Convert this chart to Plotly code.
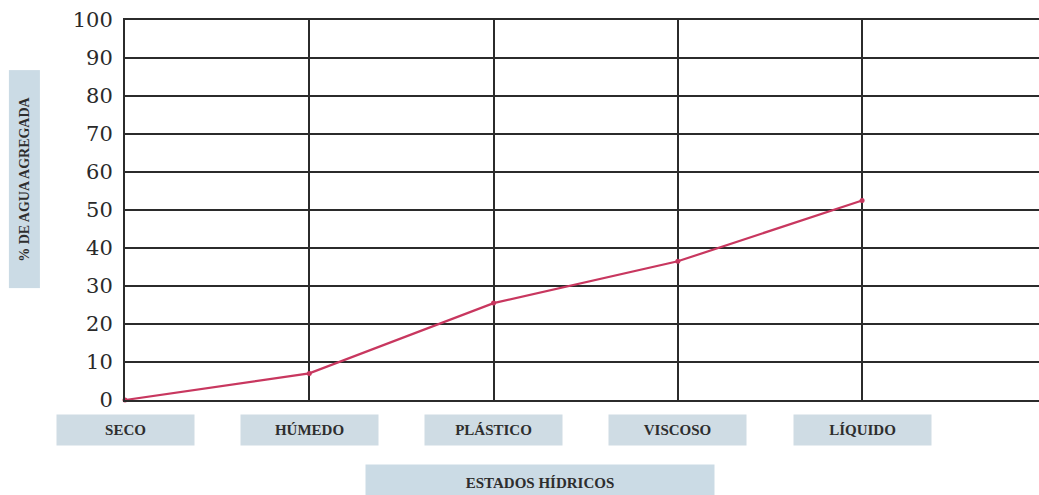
import plotly.graph_objects as go

categories = ["SECO", "HÚMEDO", "PLÁSTICO", "VISCOSO", "LÍQUIDO"]
agua_pct = [0, 7, 25.5, 36.5, 52.5]
y_ticks = list(range(0, 101, 10))
x_title = "ESTADOS HÍDRICOS"
y_title = "% DE AGUA AGREGADA"

xpos = list(range(len(categories)))

fig = go.Figure()
fig.add_trace(go.Scatter(
    x=xpos, y=agua_pct, mode="lines+markers",
    line=dict(color="#c8375f", width=2.2),
    marker=dict(size=5, color="#c8375f"),
    cliponaxis=False, showlegend=False,
))

grid = "#2b2b2b"
fig.update_layout(
    width=1039, height=495,
    margin=dict(l=125, r=0, t=20, b=95),
    paper_bgcolor="white", plot_bgcolor="white",
    xaxis=dict(range=[0, 4.96], tickvals=xpos, showticklabels=False,
               showgrid=True, gridcolor=grid, gridwidth=2,
               showline=True, linecolor=grid, linewidth=2, mirror=True,
               zeroline=False, ticks=""),
    yaxis=dict(range=[0, 100], tickvals=y_ticks, showgrid=True,
               gridcolor=grid, gridwidth=2, showline=True, linecolor=grid,
               linewidth=2, zeroline=False, ticks="", ticklabelstandoff=6,
               tickfont=dict(family="DejaVu Serif", size=21, color="#2a2a2a")),
)

for xi, cat in zip(xpos, categories):
    fig.add_annotation(
        x=xi, xref="x", y=-0.079, yref="paper", text="<b>" + cat + "</b>",
        showarrow=False, width=135, height=28, bgcolor="#cfdce4",
        font=dict(family="Liberation Serif", size=15, color="#2e2e2e"),
        xanchor="center", yanchor="middle",
    )

fig.add_annotation(
    x=0.454, xref="paper", y=-0.218, yref="paper", text="<b>" + x_title + "</b>",
    showarrow=False, width=346, height=34, bgcolor="#cbdbe5",
    font=dict(family="Liberation Serif", size=15, color="#2e2e2e"),
    xanchor="center", yanchor="middle",
)

fig.add_annotation(
    x=-0.1105, xref="paper", y=0.58, yref="paper", text="<b>" + y_title + "</b>",
    showarrow=False, textangle=-90, width=215, height=28, bgcolor="#cbdbe5",
    font=dict(family="Liberation Serif", size=14, color="#2e2e2e"),
    xanchor="center", yanchor="middle",
)

fig.write_html("out.html")
